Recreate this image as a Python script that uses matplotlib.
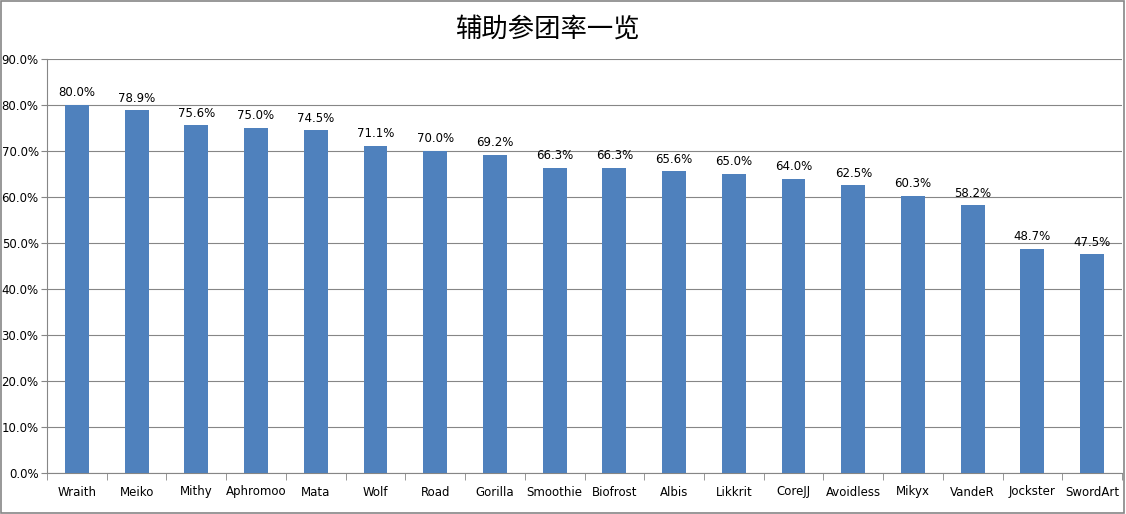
import matplotlib
matplotlib.use("Agg")
import matplotlib.pyplot as plt
from matplotlib.patches import Rectangle
import numpy as np

plt.rcParams['font.family'] = ['DejaVu Sans', 'Noto Sans CJK SC']

players = ["Wraith", "Meiko", "Mithy", "Aphromoo", "Mata", "Wolf", "Road", "Gorilla",
           "Smoothie", "Biofrost", "Albis", "Likkrit", "CoreJJ", "Avoidless", "Mikyx",
           "VandeR", "Jockster", "SwordArt"]
rates = [80.0, 78.9, 75.6, 75.0, 74.5, 71.1, 70.0, 69.2, 66.3, 66.3, 65.6, 65.0,
         64.0, 62.5, 60.3, 58.2, 48.7, 47.5]
yticks = [0, 10, 20, 30, 40, 50, 60, 70, 80, 90]
title = "辅助参团率一览"

fig = plt.figure(figsize=(11.26, 5.14), dpi=100)
ax = fig.add_axes([47/1126, 1 - 473/514, (1122-47)/1126, (473-59)/514])

x = np.arange(len(players))
ax.bar(x, rates, width=0.4, color="#4F81BD", zorder=3)
for xi, v in zip(x, rates):
    ax.text(xi, v + 1.2, f"{v:.1f}%", ha="center", va="bottom", fontsize=8.5, color="#000000")

ax.set_xlim(-0.5, len(players) - 0.5)
ax.set_ylim(0, 90)
ax.set_yticks(yticks)
ax.set_yticklabels([f"{t:.1f}%" for t in yticks], fontsize=8.5)
ax.set_xticks(x)
ax.set_xticklabels(players, fontsize=8.5)
ax.set_xticks(np.arange(-0.5, len(players), 1), minor=True)
ax.tick_params(axis="x", which="major", length=0, pad=9)
ax.tick_params(axis="x", which="minor", length=5, color="#868686", direction="out")
ax.tick_params(axis="y", length=4, color="#868686", pad=2)
ax.grid(axis="y", color="#868686", linewidth=0.8, zorder=0)
for s in ["top", "right"]:
    ax.spines[s].set_visible(False)
for s in ["left", "bottom"]:
    ax.spines[s].set_color("#868686")
    ax.spines[s].set_linewidth(0.8)

fig.text(547/1126, 1 - 29/514, title, ha="center", va="center", fontsize=19,
         family=['Noto Sans CJK SC', 'DejaVu Sans'])
fig.patches.append(Rectangle((0.0005, 0.001), 0.998, 0.997, transform=fig.transFigure,
                             fill=False, edgecolor="#868686", linewidth=1.2))
fig.savefig("out.png", dpi=100)
